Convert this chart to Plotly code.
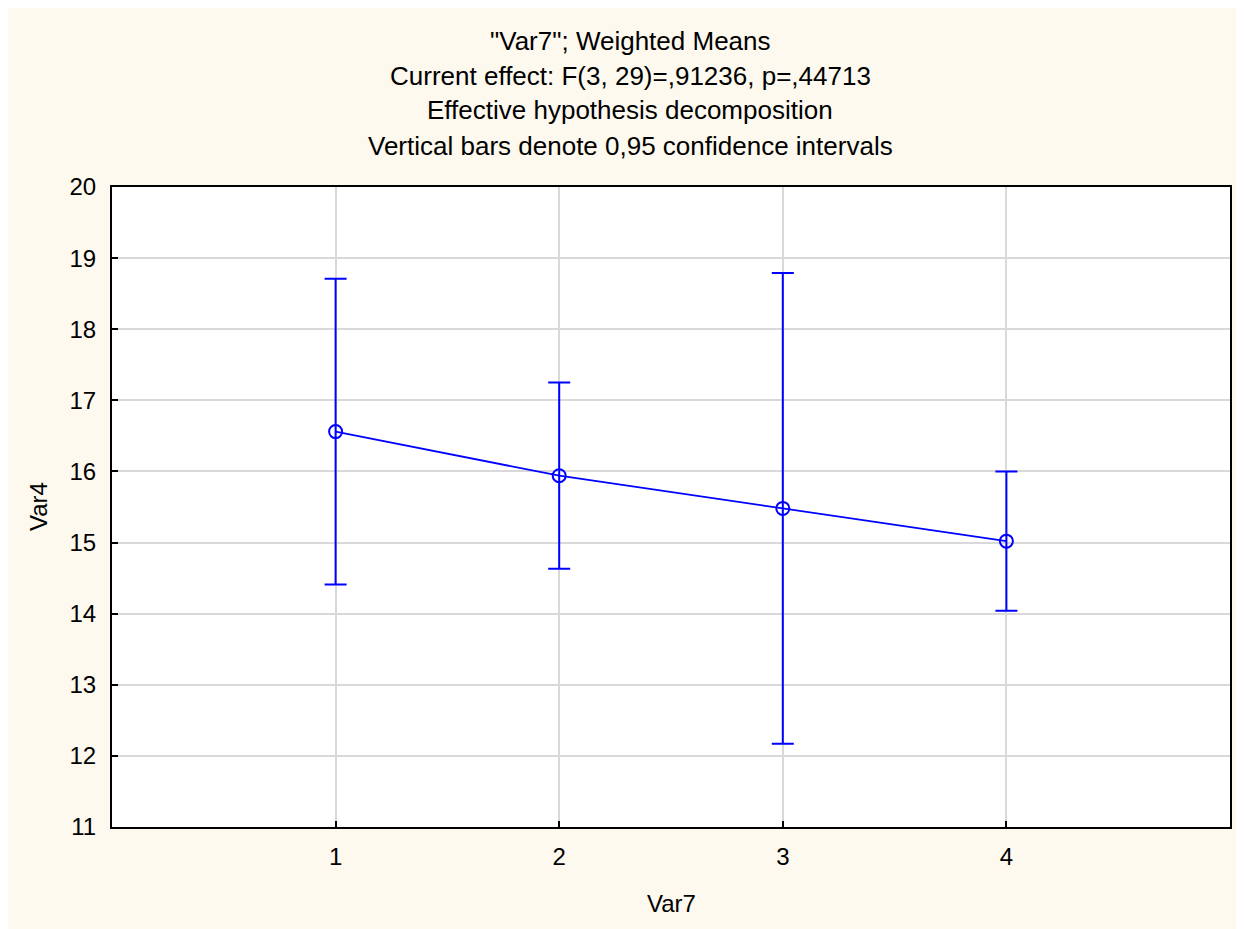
import plotly.graph_objects as go

# ---- data ----
levels = [1, 2, 3, 4]
means = [16.56, 15.94, 15.48, 15.02]
ci_half = [2.15, 1.31, 3.31, 0.98]
x_ticks = [1, 2, 3, 4]
y_ticks = [11, 12, 13, 14, 15, 16, 17, 18, 19, 20]
title_lines = [
    '"Var7"; Weighted Means',
    'Current effect: F(3, 29)=,91236, p=,44713',
    'Effective hypothesis decomposition',
    'Vertical bars denote 0,95 confidence intervals',
]
x_title = "Var7"
y_title = "Var4"

# page offset of the plotly div (body margin)
OFF = 8
W, H = 1236, 921
# plot area in screen coordinates
SL, SR, ST, SB = 112, 1230, 187, 827
L = SL - OFF
T = ST - OFF
R = W - (SR - OFF)
B = H - (SB - OFF)
pw, ph = SR - SL, SB - ST

def px(xs):
    return (xs - SL) / pw

def py(ys):
    return (SB - ys) / ph

FONT = "Liberation Sans, Arial, sans-serif"
BLUE = "#0000FF"
CREAM = "#FDF9EE"

fig = go.Figure()
fig.add_trace(go.Scatter(
    x=levels, y=means,
    mode="lines+markers",
    line=dict(color=BLUE, width=1.8),
    marker=dict(symbol="circle-open", size=13, color=BLUE, line=dict(width=2, color=BLUE)),
    error_y=dict(type="data", array=ci_half, symmetric=True, color=BLUE, thickness=2, width=11),
    showlegend=False,
))

annotations = []
title_y = [41, 76, 110, 146]
for txt, yy in zip(title_lines, title_y):
    annotations.append(dict(
        text=txt, x=px(630), y=py(yy), xref="paper", yref="paper",
        xanchor="center", yanchor="middle", showarrow=False,
        font=dict(family=FONT, size=26, color="black"),
    ))
annotations.append(dict(
    text=x_title, x=px(671), y=py(903), xref="paper", yref="paper",
    xanchor="center", yanchor="middle", showarrow=False,
    font=dict(family=FONT, size=24, color="black"),
))
annotations.append(dict(
    text=y_title, x=px(38), y=py(507), xref="paper", yref="paper",
    xanchor="center", yanchor="middle", showarrow=False, textangle=-90,
    font=dict(family=FONT, size=24, color="black"),
))

fig.update_layout(
    width=W, height=H,
    margin=dict(l=L, r=R, t=T, b=B, pad=0),
    paper_bgcolor=CREAM,
    plot_bgcolor="white",
    font=dict(family=FONT, size=24, color="black"),
    annotations=annotations,
    showlegend=False,
)
fig.update_xaxes(
    range=[0, 5], tickmode="array", tickvals=x_ticks,
    ticktext=[str(v) for v in x_ticks],
    showgrid=True, gridcolor="#D9D9D9", gridwidth=1.5,
    showline=True, linecolor="black", linewidth=2, mirror=True,
    ticks="inside", ticklen=6, tickcolor="black", tickwidth=1.5,
    tickfont=dict(family=FONT, size=24, color="black"),
    zeroline=False, ticklabelstandoff=7,
)
fig.update_yaxes(
    range=[11, 20], tickmode="array", tickvals=y_ticks,
    showgrid=True, gridcolor="#D9D9D9", gridwidth=1.5,
    showline=True, linecolor="black", linewidth=2, mirror=True,
    ticks="inside", ticklen=6, tickcolor="black", tickwidth=1.5,
    tickfont=dict(family=FONT, size=24, color="black"),
    zeroline=False, ticklabelstandoff=9,
)

fig.write_html("out.html")
